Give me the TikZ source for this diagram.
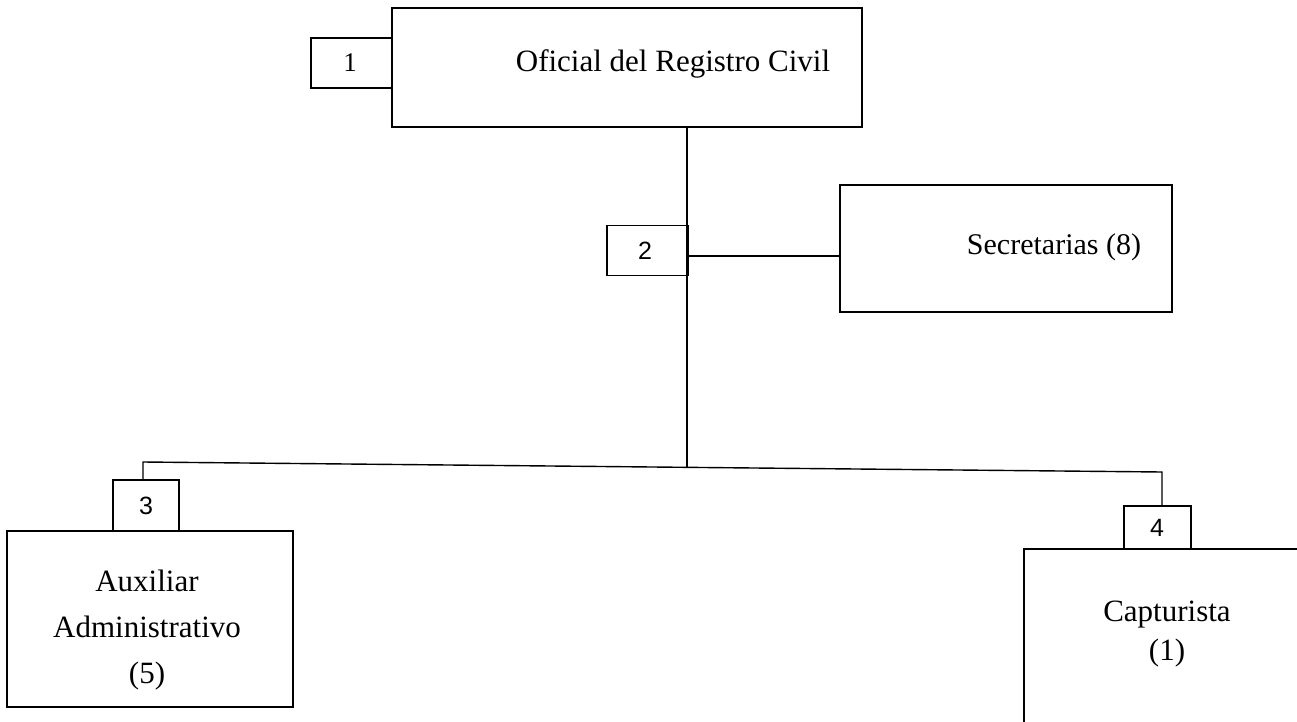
\documentclass[tikz,border=0pt]{standalone}
\usepackage{fontspec}
\setmainfont{Liberation Serif}
\newfontfamily\numfont{Liberation Sans}
\begin{document}
\begin{tikzpicture}[x=1pt,y=-1pt,
  boxline/.style={draw=black, line width=1.5pt},
  bigbox/.style={boxline, rectangle, inner sep=0pt},
  numbox/.style={boxline, rectangle, inner sep=0pt, fill=white},
  conn/.style={draw=black, line width=1.4pt},
  lbl/.style={font=\fontsize{31}{36}\selectfont, inner sep=0pt, align=center},
  numlbl/.style={font=\numfont\fontsize{25}{28}\selectfont, inner sep=0pt}]
\useasboundingbox (0,0) rectangle (1297,722);
\clip (0,0) rectangle (1297,722);
% top box
\node[bigbox, minimum width=470pt, minimum height=119pt] (main) at (627,67.5) {};
\node[lbl] (maint) at (673,64) {Oficial del Registro Civil};
\node[numbox, minimum width=81pt, minimum height=50pt] (n1) at (351.5,63) {};
\node[lbl, font=\fontsize{27}{30}\selectfont] (n1t) at (350,63) {1};
% secretarias
\node[bigbox, minimum width=332pt, minimum height=127pt] (sec) at (1006,248.5) {};
\node[lbl, font=\fontsize{30}{35}\selectfont] (sect) at (1054,247) {Secretarias (8)};
\node[numbox, minimum width=81pt, minimum height=50pt] (n2) at (647.5,250.5) {};
\node[numlbl] (n2t) at (645,251) {2};
% auxiliar
\node[bigbox, minimum width=286pt, minimum height=176pt] (aux) at (150,619) {};
\node[lbl, font=\fontsize{31}{46}\selectfont] (auxt) at (147,630) {Auxiliar\\Administrativo\\(5)};
\node[numbox, minimum width=66pt, minimum height=51pt] (n3) at (146,505.5) {};
\node[numlbl] (n3t) at (146,506) {3};
% capturista
\node[bigbox, minimum width=300pt, minimum height=200pt] (cap) at (1174,649) {};
\node[lbl, font=\fontsize{31}{39}\selectfont] (capt) at (1167,634) {Capturista\\(1)};
\node[numbox, minimum width=67pt, minimum height=43pt] (n4) at (1157.5,527.5) {};
\node[numlbl] (n4t) at (1157,528) {4};
% connectors
\coordinate (trunk) at (687,467);
\coordinate (L) at (143,462);
\coordinate (R) at (1162,472);
\coordinate (secjoin) at (687,256);
\draw[conn] (main.south -| trunk) -- (trunk);
\draw[conn] (secjoin) -- (secjoin -| sec.west);
\draw[conn] (n3.north -| L) -- (L) -- (R) -- (n4.north -| R);
\end{tikzpicture}
\end{document}
